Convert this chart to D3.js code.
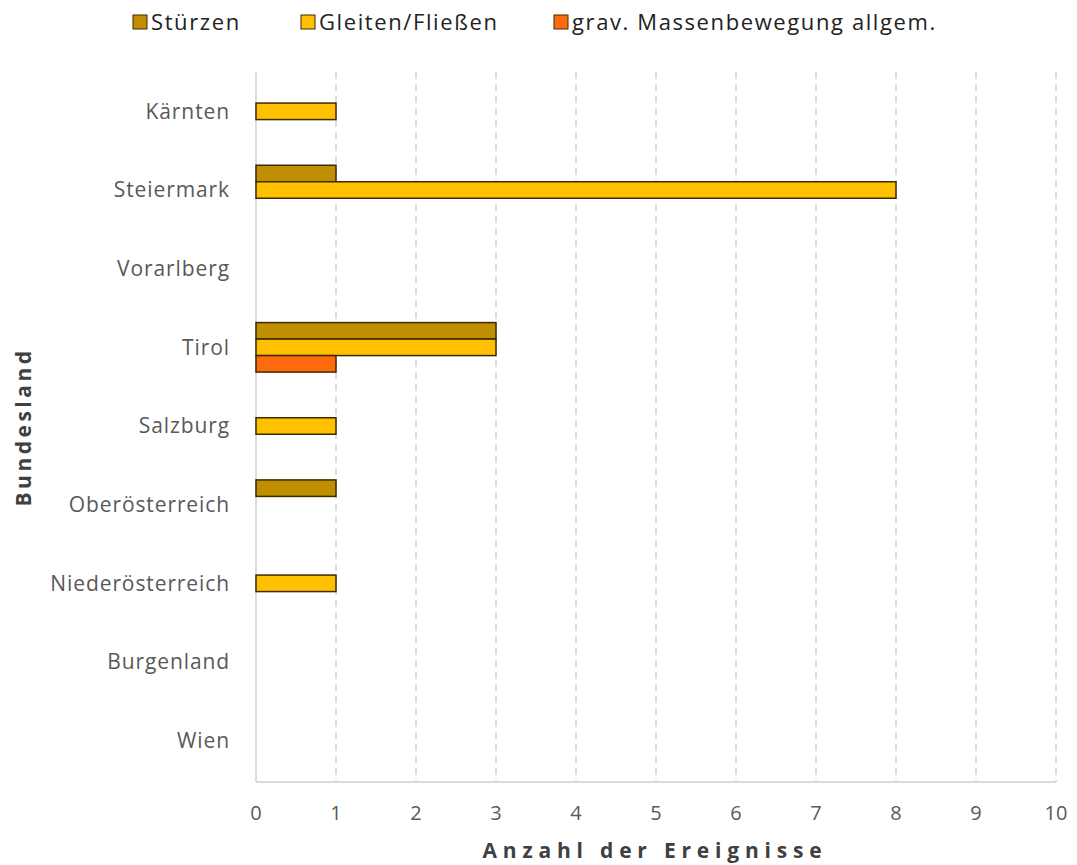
<!DOCTYPE html>
<html>
<head>
<meta charset="utf-8">
<script src="https://cdn.jsdelivr.net/npm/d3@7"></script>
<style>
  body { margin: 0; background: #fff; }
  text { font-family: "Open Sans", "Noto Sans", sans-serif; }
</style>
</head>
<body>
<svg width="1077" height="865"></svg>
<script>
var states = ["Kärnten", "Steiermark", "Vorarlberg", "Tirol", "Salzburg",
              "Oberösterreich", "Niederösterreich", "Burgenland", "Wien"];
var seriesNames = ["Stürzen", "Gleiten/Fließen", "grav. Massenbewegung allgem."];
var stuerzen = [0, 1, 0, 3, 0, 1, 0, 0, 0];
var gleiten  = [1, 8, 0, 3, 1, 0, 1, 0, 0];
var grav     = [0, 0, 0, 1, 0, 0, 0, 0, 0];
var xTicks = [0, 1, 2, 3, 4, 5, 6, 7, 8, 9, 10];
var colors = ["#BF8F00", "#FFC000", "#FF6A0D"];

var series = [stuerzen, gleiten, grav];

var svg = d3.select("svg");
var margin = {top: 72, left: 256, right: 21, bottom: 83};
var width = 1077 - margin.left - margin.right;
var height = 865 - margin.top - margin.bottom;

var g = svg.append("g")
  .attr("transform", "translate(" + margin.left + "," + margin.top + ")");

// scales
var x = d3.scaleLinear().domain([0, 10]).range([0, width]);
var y = d3.scaleBand().domain(states).range([0, height - 2]);
var inner = d3.scaleBand().domain(d3.range(3))
  .range([0, 49.5])
  .padding(0);

// gridlines
g.selectAll(".grid")
  .data(xTicks.slice(1))
  .enter().append("line")
  .attr("x1", d => x(d)).attr("x2", d => x(d))
  .attr("y1", 0).attr("y2", height)
  .attr("stroke", "#d4d4d4")
  .attr("stroke-width", 1.5)
  .attr("stroke-dasharray", "7,5");

// axis lines
g.append("line").attr("x1", 0).attr("x2", 0).attr("y1", 0).attr("y2", height)
  .attr("stroke", "#d0d0d0").attr("stroke-width", 1.5);
g.append("line").attr("x1", 0).attr("x2", width).attr("y1", height).attr("y2", height)
  .attr("stroke", "#d0d0d0").attr("stroke-width", 1.5);

// bars
var rows = states.map(function (s, i) {
  return series.map(function (arr, k) { return {state: s, k: k, v: arr[i]}; });
});
var groups = g.selectAll(".grp")
  .data(rows)
  .enter().append("g")
  .attr("transform", function (d, i) {
    return "translate(0," + (y(states[i]) + y.bandwidth() / 2 - 24.75) + ")";
  });
groups.selectAll("rect")
  .data(d => d.filter(e => e.v > 0))
  .enter().append("rect")
  .attr("x", x(0))
  .attr("y", d => inner(d.k))
  .attr("width", d => x(d.v) - x(0))
  .attr("height", inner.bandwidth())
  .attr("fill", d => colors[d.k])
  .attr("stroke", "#3b2a05")
  .attr("stroke-width", 1.5);

// y labels
g.selectAll(".ylab")
  .data(states)
  .enter().append("text")
  .attr("x", -26)
  .attr("y", d => y(d) + y.bandwidth() / 2)
  .attr("dy", "0.35em")
  .attr("text-anchor", "end")
  .attr("font-size", 21)
  .attr("letter-spacing", 0.9)
  .attr("fill", "#595959")
  .text(d => d);

// x tick labels
g.selectAll(".xlab")
  .data(xTicks)
  .enter().append("text")
  .attr("x", d => x(d))
  .attr("y", height + 38)
  .attr("text-anchor", "middle")
  .attr("font-size", 20)
  .attr("fill", "#595959")
  .text(d => d);

// axis titles
svg.append("text")
  .attr("x", 655).attr("y", 858)
  .attr("text-anchor", "middle")
  .attr("font-size", 21)
  .attr("font-weight", "bold")
  .attr("letter-spacing", 5.8)
  .attr("fill", "#404040")
  .text("Anzahl der Ereignisse");
svg.append("text")
  .attr("transform", "translate(31,427) rotate(-90)")
  .attr("text-anchor", "middle")
  .attr("font-size", 21)
  .attr("font-weight", "bold")
  .attr("letter-spacing", 3.5)
  .attr("fill", "#404040")
  .text("Bundesland");

// legend
var legX = [133, 301, 554];
var leg = svg.selectAll(".leg")
  .data(seriesNames)
  .enter().append("g")
  .attr("transform", (d, i) => "translate(" + legX[i] + ",15)");
leg.append("rect")
  .attr("width", 14).attr("height", 14)
  .attr("fill", (d, i) => colors[i])
  .attr("stroke", "#3b2a05").attr("stroke-width", 1);
leg.append("text")
  .attr("x", 18).attr("y", 7)
  .attr("dy", "0.35em")
  .attr("font-size", 22)
  .attr("letter-spacing", 1.6)
  .attr("fill", "#222")
  .text(d => d);
</script>
</body>
</html>
